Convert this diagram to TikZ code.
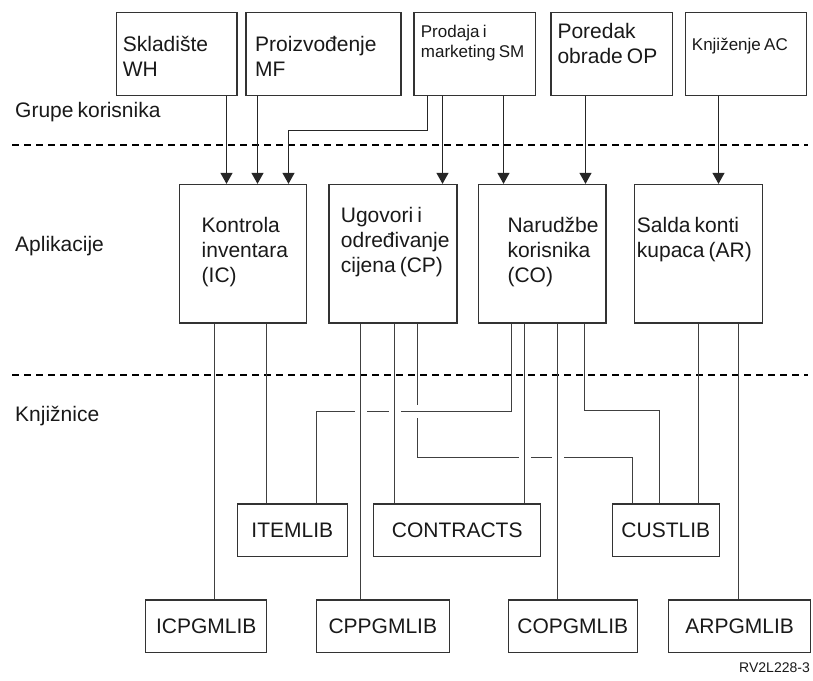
\documentclass[tikz,border=0pt]{standalone}
\usepackage{fontspec}
\setmainfont{Liberation Sans}[WordSpace=0.7]
\usetikzlibrary{arrows.meta}
\begin{document}
\begin{tikzpicture}[x=1pt,y=-1pt,
  box/.style={draw=black!80, line width=1.3pt, rectangle, inner sep=0pt, text=black!90},
  big/.style={font=\fontsize{21}{25}\selectfont},
  small/.style={font=\fontsize{17}{20}\selectfont},
  lbl/.style={anchor=base west, inner sep=0pt, align=left, text=black!90},
  arr/.style={draw=black!85, line width=1pt, -{Triangle[length=11pt,width=12pt]}},
  conn/.style={draw=black!75, line width=1pt},
  gapmask/.style={draw=white, line width=4pt},
  dashline/.style={draw=black, line width=1.8pt, dash pattern=on 7pt off 5pt}]
\useasboundingbox (0,0) rectangle (813,680);

% top boxes
\node[box, minimum width=120.3pt, minimum height=83pt] (wh) at (176.85,54.2) {};
\node[box, minimum width=155pt, minimum height=83pt] (mf) at (323.5,54.2) {};
\node[box, minimum width=121.3pt, minimum height=83pt] (sm) at (474.65,54.2) {};
\node[box, minimum width=121.3pt, minimum height=83pt] (op) at (611.65,54.2) {};
\node[box, minimum width=121pt, minimum height=83pt] (ac) at (746.2,54.2) {};
\node[lbl, big] (twh) at (122.7,76) {Skladište\\WH};
\node[lbl, big] (tmf) at (255,76) {Proizvođenje\\MF};
\node[lbl, small] (tsm) at (420.7,57) {Prodaja i\\marketing SM};
\node[lbl, big] (top) at (557.3,63) {Poredak\\obrade OP};
\node[lbl, small] (tac) at (691.7,50) {Knjiženje AC};

% middle boxes
\node[box, minimum width=127.4pt, minimum height=138.5pt] (ic) at (243,253.75) {};
\node[box, minimum width=128pt, minimum height=138.5pt] (cp) at (393,253.75) {};
\node[box, minimum width=127.7pt, minimum height=138.5pt] (co) at (542.15,253.75) {};
\node[box, minimum width=128pt, minimum height=138.5pt] (ar) at (698.3,253.75) {};
\node[lbl, big] (tic) at (201.5,282) {Kontrola\\inventara\\(IC)};
\node[lbl, big] (tcp) at (340.7,272) {Ugovori i\\određivanje\\cijena (CP)};
\node[lbl, big] (tco) at (507.3,282) {Narudžbe\\korisnika\\(CO)};
\node[lbl, big] (tar) at (636.7,257) {Salda konti\\kupaca (AR)};

% bottom boxes
\node[box, big, minimum width=110pt, minimum height=52.7pt] (itemlib) at (292.3,530.35) {ITEMLIB};
\node[box, big, minimum width=167pt, minimum height=52.7pt] (contracts) at (457.2,530.35) {CONTRACTS};
\node[box, big, minimum width=107pt, minimum height=52.7pt] (custlib) at (665.8,530.35) {CUSTLIB};
\node[box, big, minimum width=121pt, minimum height=52.3pt] (icpgm) at (206.2,626.15) {ICPGMLIB};
\node[box, big, minimum width=133pt, minimum height=52.3pt] (cppgm) at (382.8,626.15) {CPPGMLIB};
\node[box, big, minimum width=129pt, minimum height=52.3pt] (copgm) at (572.8,626.15) {COPGMLIB};
\node[box, big, minimum width=141.8pt, minimum height=52.3pt] (arpgm) at (739.6,626.15) {ARPGMLIB};

% side labels
\node[lbl, big] (lg) at (15,117) {Grupe korisnika};
\node[lbl, big] (la) at (15,251) {Aplikacije};
\node[lbl, big] (lk) at (15,421) {Knjižnice};
\node[anchor=base east, inner sep=0pt, font=\fontsize{14}{16}\selectfont, text=black!90] (code) at (810,672) {RV2L228-3};

% dashed separators
\coordinate (d1a) at (12,145); \coordinate (d1b) at (808,145);
\coordinate (d2a) at (12,375); \coordinate (d2b) at (808,375);
\draw[dashline] (d1a) -- (d1b);
\draw[dashline] (d2a) -- (d2b);

% arrow x positions
\coordinate (a1) at (226.5,0);
\coordinate (a2) at (257.5,0);
\coordinate (a3) at (427.5,0);
\coordinate (k3) at (288.5,130.5);
\coordinate (a4) at (442.5,0);
\coordinate (a5) at (503.5,0);
\coordinate (a6) at (585.5,0);
\coordinate (a7) at (718.5,0);

\draw[arr] (wh.south -| a1) -- (ic.north -| a1);
\draw[arr] (mf.south -| a2) -- (ic.north -| a2);
\draw[arr] (sm.south -| a3) |- (k3) -- (ic.north -| k3);
\draw[arr] (sm.south -| a4) -- (cp.north -| a4);
\draw[arr] (sm.south -| a5) -- (co.north -| a5);
\draw[arr] (op.south -| a6) -- (co.north -| a6);
\draw[arr] (ac.south -| a7) -- (ar.north -| a7);

% lower connectors
\coordinate (l1) at (214.5,0);
\coordinate (l2) at (266.5,0);
\coordinate (l3) at (360.5,0);
\coordinate (l4) at (394.5,0);
\coordinate (l5) at (524.5,0);
\coordinate (l6) at (557.5,0);
\coordinate (l7) at (698.5,0);
\coordinate (l8) at (738.5,0);
\coordinate (xA) at (511.5,411.5); \coordinate (pA) at (316.5,0);
\coordinate (xB) at (417.5,457.5); \coordinate (pB) at (632.5,0);
\coordinate (xC) at (584.5,410.5); \coordinate (pC) at (659.5,0);

% route B (CP -> CUSTLIB) with its gap under route A
\draw[conn] (cp.south -| xB) -- (xB) -| (custlib.north -| pB);
\draw[gapmask] (417.5,405) -- (417.5,418);
% route A (CO -> ITEMLIB)
\draw[conn] (co.south -| xA) -- (xA) -| (itemlib.north -| pA);
% gaps in horizontals
\draw[gapmask] (354.5,411.5) -- (366.5,411.5);
\draw[gapmask] (388.5,411.5) -- (400.5,411.5);
\draw[gapmask] (518.5,457.5) -- (530.5,457.5);
\draw[gapmask] (551.5,457.5) -- (563.5,457.5);
% route C (CO -> CUSTLIB)
\draw[conn] (co.south -| xC) -- (xC) -| (custlib.north -| pC);

\draw[conn] (ic.south -| l1) -- (icpgm.north -| l1);
\draw[conn] (ic.south -| l2) -- (itemlib.north -| l2);
\draw[conn] (cp.south -| l3) -- (cppgm.north -| l3);
\draw[conn] (cp.south -| l4) -- (contracts.north -| l4);
\draw[conn] (co.south -| l5) -- (contracts.north -| l5);
\draw[conn] (co.south -| l6) -- (copgm.north -| l6);
\draw[conn] (ar.south -| l7) -- (custlib.north -| l7);
\draw[conn] (ar.south -| l8) -- (arpgm.north -| l8);
\end{tikzpicture}
\end{document}
